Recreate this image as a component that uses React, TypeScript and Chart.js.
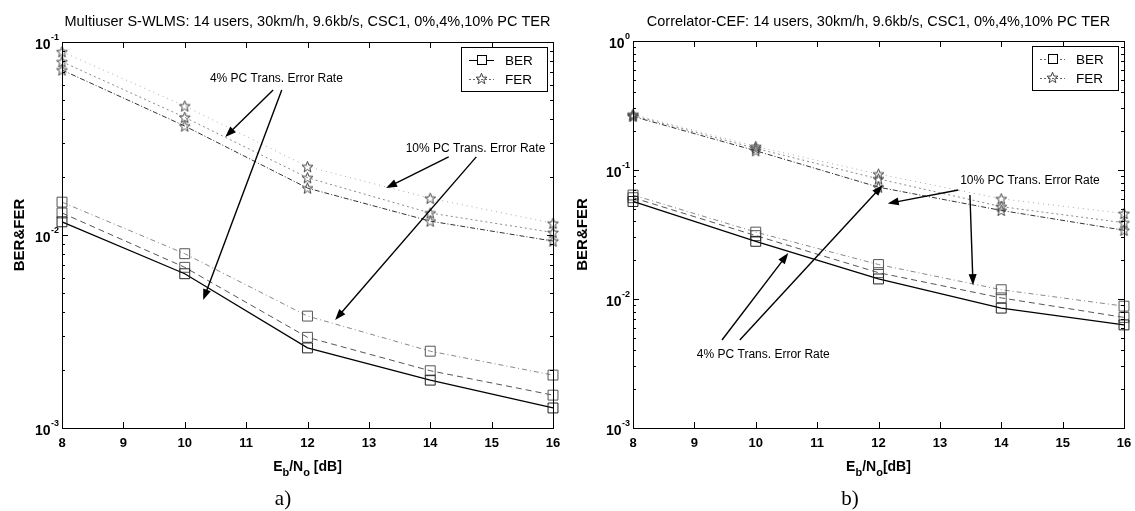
import React, { useEffect, useRef } from "react";
import { Chart, registerables } from "chart.js";

Chart.register(...registerables);

// ---------- DATA ----------
const snrDb = [8, 10, 12, 14, 16];
const xTickValues = [8, 9, 10, 11, 12, 13, 14, 15, 16];

// Panel a) Multiuser S-WLMS
const aBer0 = [0.0117, 0.0063, 0.0026, 0.00177, 0.00127];
const aBer4 = [0.013, 0.0068, 0.00295, 0.00198, 0.00148];
const aBer10 = [0.0148, 0.008, 0.0038, 0.0025, 0.00188];
const aFer0 = [0.0716, 0.0367, 0.0175, 0.0118, 0.0093];
const aFer4 = [0.079, 0.0407, 0.0198, 0.013, 0.0103];
const aFer10 = [0.089, 0.0466, 0.0226, 0.0155, 0.0115];

// Panel b) Correlator-CEF
const bBer0 = [0.057, 0.028, 0.0143, 0.0085, 0.0063];
const bBer4 = [0.061, 0.031, 0.016, 0.0102, 0.0072];
const bBer10 = [0.064, 0.033, 0.0185, 0.0118, 0.0088];
const bFer0 = [0.26, 0.141, 0.0736, 0.0486, 0.0341];
const bFer4 = [0.265, 0.147, 0.0853, 0.052, 0.039];
const bFer10 = [0.27, 0.152, 0.093, 0.0598, 0.046];

const legendLabels = ["BER", "FER"];

type Pt = [number, number];
type Note = { text: string; at: Pt; arrows: { from: Pt; to: Pt }[] };

const FONT = "'Liberation Sans', Arial, Helvetica, sans-serif";

function makeStar(color: string): HTMLCanvasElement {
  const c = document.createElement("canvas");
  c.width = 13;
  c.height = 13;
  const g = c.getContext("2d")!;
  g.strokeStyle = color;
  g.lineWidth = 1;
  g.beginPath();
  for (let i = 0; i < 10; i++) {
    const r = i % 2 === 0 ? 5.8 : 2.4;
    const a = -Math.PI / 2 + (i * Math.PI) / 5;
    const px = 6.5 + r * Math.cos(a);
    const py = 7 + r * Math.sin(a);
    if (i === 0) g.moveTo(px, py);
    else g.lineTo(px, py);
  }
  g.closePath();
  g.stroke();
  return c;
}

type PanelSpec = {
  key: string;
  left: number;
  width: number;
  pad: { left: number; right: number; top: number; bottom: number };
  yMin: number;
  yMax: number;
  title: string;
  xSpace: boolean;
  yLabelOffset: number;
  ber: number[][];
  fer: number[][];
  notes: Note[];
  tag: string;
  tagX: number;
  legendDotted: boolean;
};

const panels: PanelSpec[] = [
  {
    key: "a",
    left: 0,
    width: 567,
    pad: { left: 62, right: 14, top: 42, bottom: 83 },
    yMin: 0.001,
    yMax: 0.1,
    title: "Multiuser S-WLMS: 14 users, 30km/h, 9.6kb/s, CSC1, 0%,4%,10% PC TER",
    xSpace: true,
    yLabelOffset: 42,
    ber: [aBer0, aBer4, aBer10],
    fer: [aFer0, aFer4, aFer10],
    notes: [
      {
        text: "4% PC Trans. Error Rate",
        at: [10.41, 0.0643],
        arrows: [
          { from: [11.44, 0.0564], to: [10.66, 0.0322] },
          { from: [11.58, 0.0564], to: [10.3, 0.0046] },
        ],
      },
      {
        text: "10% PC Trans. Error Rate",
        at: [13.6, 0.0279],
        arrows: [
          { from: [14.3, 0.0254], to: [13.28, 0.0175] },
          { from: [14.75, 0.0254], to: [12.45, 0.00363] },
        ],
      },
    ],
    tag: "a)",
    tagX: 283,
    legendDotted: false,
  },
  {
    key: "b",
    left: 567,
    width: 568,
    pad: { left: 66, right: 11, top: 41, bottom: 83 },
    yMin: 0.001,
    yMax: 1,
    title: "Correlator-CEF: 14 users, 30km/h, 9.6kb/s, CSC1, 0%,4%,10% PC TER",
    xSpace: false,
    yLabelOffset: 50,
    ber: [bBer0, bBer4, bBer10],
    fer: [bFer0, bFer4, bFer10],
    notes: [
      {
        text: "10% PC Trans. Error Rate",
        at: [13.33, 0.0822],
        arrows: [
          { from: [13.3, 0.07], to: [12.15, 0.055] },
          { from: [13.49, 0.064], to: [13.54, 0.0128] },
        ],
      },
      {
        text: "4% PC Trans. Error Rate",
        at: [9.04, 0.00368],
        arrows: [
          { from: [9.45, 0.00481], to: [10.53, 0.0227] },
          { from: [9.74, 0.00481], to: [12.07, 0.0765] },
        ],
      },
    ],
    tag: "b)",
    tagX: 283,
    legendDotted: true,
  },
];

const berStyles = [
  { color: "#000000", dash: [] as number[], width: 1.3 },
  { color: "#555555", dash: [6, 4], width: 1 },
  { color: "#888888", dash: [5, 3, 1, 3], width: 1 },
];
const ferStyles = [
  { color: "#333333", dash: [5, 2, 1, 2], width: 1 },
  { color: "#8a8a8a", dash: [2, 3], width: 1 },
  { color: "#aaaaaa", dash: [1, 4], width: 1 },
];

function drawArrow(ctx: CanvasRenderingContext2D, x1: number, y1: number, x2: number, y2: number) {
  const ang = Math.atan2(y2 - y1, x2 - x1);
  const hl = 11;
  const hw = 4;
  ctx.save();
  ctx.strokeStyle = "#000";
  ctx.fillStyle = "#000";
  ctx.lineWidth = 1.4;
  ctx.setLineDash([]);
  ctx.beginPath();
  ctx.moveTo(x1, y1);
  ctx.lineTo(x2 - hl * 0.8 * Math.cos(ang), y2 - hl * 0.8 * Math.sin(ang));
  ctx.stroke();
  ctx.beginPath();
  ctx.moveTo(x2, y2);
  ctx.lineTo(x2 - hl * Math.cos(ang) + hw * Math.sin(ang), y2 - hl * Math.sin(ang) - hw * Math.cos(ang));
  ctx.lineTo(x2 - hl * Math.cos(ang) - hw * Math.sin(ang), y2 - hl * Math.sin(ang) + hw * Math.cos(ang));
  ctx.closePath();
  ctx.fill();
  ctx.restore();
}

function makeDecor(spec: PanelSpec, star: HTMLCanvasElement) {
  return {
    id: "decor" + spec.key,
    afterDraw(chart: any) {
      const ctx: CanvasRenderingContext2D = chart.ctx;
      const area = chart.chartArea;
      const xs = chart.scales.x;
      const ys = chart.scales.y;
      ctx.save();
      // frame
      ctx.strokeStyle = "#000";
      ctx.lineWidth = 1;
      ctx.setLineDash([]);
      ctx.strokeRect(Math.round(area.left) + 0.5, Math.round(area.top) + 0.5, Math.round(area.right - area.left), Math.round(area.bottom - area.top));
      // x ticks
      ctx.beginPath();
      for (const v of xTickValues) {
        const px = Math.round(xs.getPixelForValue(v)) + 0.5;
        ctx.moveTo(px, area.bottom);
        ctx.lineTo(px, area.bottom - 6);
        ctx.moveTo(px, area.top);
        ctx.lineTo(px, area.top + 6);
      }
      // y ticks
      const eMin = Math.round(Math.log10(spec.yMin));
      const eMax = Math.round(Math.log10(spec.yMax));
      for (let e = eMin; e <= eMax; e++) {
        for (let m = 1; m <= 9; m++) {
          const v = m * Math.pow(10, e);
          if (v > spec.yMax * 1.0001) break;
          const py = Math.round(ys.getPixelForValue(v)) + 0.5;
          const len = m === 1 ? 6 : 3;
          ctx.moveTo(area.left, py);
          ctx.lineTo(area.left + len, py);
          ctx.moveTo(area.right, py);
          ctx.lineTo(area.right - len, py);
        }
      }
      ctx.stroke();

      ctx.fillStyle = "#000";
      // x tick labels
      ctx.font = `bold 13px ${FONT}`;
      ctx.textAlign = "center";
      ctx.textBaseline = "middle";
      for (const v of xTickValues) {
        ctx.fillText(String(v), xs.getPixelForValue(v), area.bottom + 15);
      }
      // y tick labels with superscript
      for (let e = eMin; e <= eMax; e++) {
        const py = ys.getPixelForValue(Math.pow(10, e));
        const sup = String(e);
        ctx.font = `bold 9px ${FONT}`;
        const sw = ctx.measureText(sup).width;
        ctx.textAlign = "left";
        ctx.textBaseline = "alphabetic";
        const supX = area.left - 3 - sw;
        ctx.fillText(sup, supX, py - 2);
        ctx.font = `bold 14px ${FONT}`;
        ctx.textAlign = "right";
        ctx.fillText("10", supX - 0.5, py + 7);
      }
      // title
      ctx.font = `14.5px ${FONT}`;
      ctx.textAlign = "center";
      ctx.textBaseline = "middle";
      ctx.fillText(spec.title, (area.left + area.right) / 2, 22);

      // y label
      ctx.save();
      ctx.translate(area.left - spec.yLabelOffset, (area.top + area.bottom) / 2);
      ctx.rotate(-Math.PI / 2);
      ctx.font = `bold 15px ${FONT}`;
      ctx.textAlign = "center";
      ctx.textBaseline = "middle";
      ctx.fillText("BER&FER", 0, 0);
      ctx.restore();

      // x label E_b/N_o [dB]
      {
        const parts: { t: string; sub: boolean }[] = [
          { t: "E", sub: false },
          { t: "b", sub: true },
          { t: "/N", sub: false },
          { t: "o", sub: true },
          { t: spec.xSpace ? " [dB]" : "[dB]", sub: false },
        ];
        const big = `bold 14px ${FONT}`;
        const small = `bold 11px ${FONT}`;
        let total = 0;
        for (const p of parts) {
          ctx.font = p.sub ? small : big;
          total += ctx.measureText(p.t).width;
        }
        let cx = (area.left + area.right) / 2 - total / 2;
        const by = area.bottom + 43;
        ctx.textAlign = "left";
        ctx.textBaseline = "alphabetic";
        for (const p of parts) {
          ctx.font = p.sub ? small : big;
          ctx.fillText(p.t, cx, p.sub ? by + 5 : by);
          cx += ctx.measureText(p.t).width;
        }
      }

      // annotations
      for (const n of spec.notes) {
        ctx.font = `12px ${FONT}`;
        ctx.textAlign = "left";
        ctx.textBaseline = "middle";
        ctx.fillStyle = "#000";
        ctx.fillText(n.text, xs.getPixelForValue(n.at[0]), ys.getPixelForValue(n.at[1]));
        for (const a of n.arrows) {
          drawArrow(
            ctx,
            xs.getPixelForValue(a.from[0]),
            ys.getPixelForValue(a.from[1]),
            xs.getPixelForValue(a.to[0]),
            ys.getPixelForValue(a.to[1])
          );
        }
      }

      // legend
      {
        const lx = area.right - 92;
        const ly = area.top + 5;
        const lw = 86;
        const lh = 44;
        ctx.fillStyle = "#fff";
        ctx.fillRect(lx, ly, lw, lh);
        ctx.strokeStyle = "#000";
        ctx.lineWidth = 1;
        ctx.setLineDash([]);
        ctx.strokeRect(Math.round(lx) + 0.5, Math.round(ly) + 0.5, lw, lh);
        const rows = [ly + 13, ly + 32];
        for (let i = 0; i < 2; i++) {
          const ry = rows[i];
          ctx.strokeStyle = i === 0 && !spec.legendDotted ? "#000" : "#666";
          ctx.setLineDash(i === 0 && !spec.legendDotted ? [] : [2, 2]);
          ctx.beginPath();
          ctx.moveTo(lx + 8, ry + 0.5);
          ctx.lineTo(lx + 33, ry + 0.5);
          ctx.stroke();
          ctx.setLineDash([]);
          if (i === 0) {
            ctx.fillStyle = "#fff";
            ctx.fillRect(lx + 16.5, ry - 4.5, 9, 9);
            ctx.strokeStyle = "#000";
            ctx.strokeRect(lx + 16.5, ry - 4.5, 9, 9);
          } else {
            ctx.drawImage(star, lx + 20.5 - 6.5, ry - 7);
          }
          ctx.fillStyle = "#000";
          ctx.font = `13.5px ${FONT}`;
          ctx.textAlign = "left";
          ctx.textBaseline = "middle";
          ctx.fillText(legendLabels[i], lx + 44, ry + 1);
        }
      }

      // panel tag
      ctx.fillStyle = "#000";
      ctx.font = `21px 'Liberation Serif', 'Times New Roman', serif`;
      ctx.textAlign = "center";
      ctx.textBaseline = "middle";
      ctx.fillText(spec.tag, spec.tagX, 499);
      ctx.restore();
    },
  };
}

function Panel({ spec }: { spec: PanelSpec }) {
  const ref = useRef<HTMLCanvasElement | null>(null);
  useEffect(() => {
    if (!ref.current) return;
    const star = makeStar("#444");
    const datasets: any[] = [];
    spec.ber.forEach((arr, i) => {
      const s = berStyles[i];
      datasets.push({
        label: `BER ${i}`,
        data: snrDb.map((x, k) => ({ x, y: arr[k] })),
        borderColor: s.color,
        borderWidth: s.width,
        borderDash: s.dash,
        pointStyle: "rect",
        pointRadius: 7,
        pointBorderWidth: 1,
        pointBorderColor: i === 0 ? "#222" : "#555",
        pointBackgroundColor: "rgba(0,0,0,0)",
        tension: 0,
        clip: false,
        fill: false,
      });
    });
    spec.fer.forEach((arr, i) => {
      const s = ferStyles[i];
      datasets.push({
        label: `FER ${i}`,
        data: snrDb.map((x, k) => ({ x, y: arr[k] })),
        borderColor: s.color,
        borderWidth: s.width,
        borderDash: s.dash,
        pointStyle: star,
        pointRadius: 6,
        tension: 0,
        clip: false,
        fill: false,
      });
    });
    const chart = new Chart(ref.current, {
      type: "line",
      data: { datasets },
      options: {
        animation: false,
        responsive: false,
        devicePixelRatio: 1,
        events: [],
        layout: { padding: spec.pad },
        plugins: { legend: { display: false }, title: { display: false }, tooltip: { enabled: false } },
        scales: {
          x: { type: "linear", min: 8, max: 16, display: false },
          y: { type: "logarithmic", min: spec.yMin, max: spec.yMax, display: false },
        },
      },
      plugins: [makeDecor(spec, star)],
    } as any);
    return () => chart.destroy();
  }, [spec]);
  return (
    <canvas
      ref={ref}
      width={spec.width}
      height={511}
      style={{ position: "absolute", left: spec.left, top: 0, width: spec.width, height: 511 }}
    />
  );
}

export default function App() {
  useEffect(() => {
    document.body.style.margin = "0";
  }, []);
  return (
    <div style={{ position: "absolute", left: 0, top: 0, width: 1135, height: 511, background: "#fff" }}>
      {panels.map((p) => (
        <Panel key={p.key} spec={p} />
      ))}
    </div>
  );
}
